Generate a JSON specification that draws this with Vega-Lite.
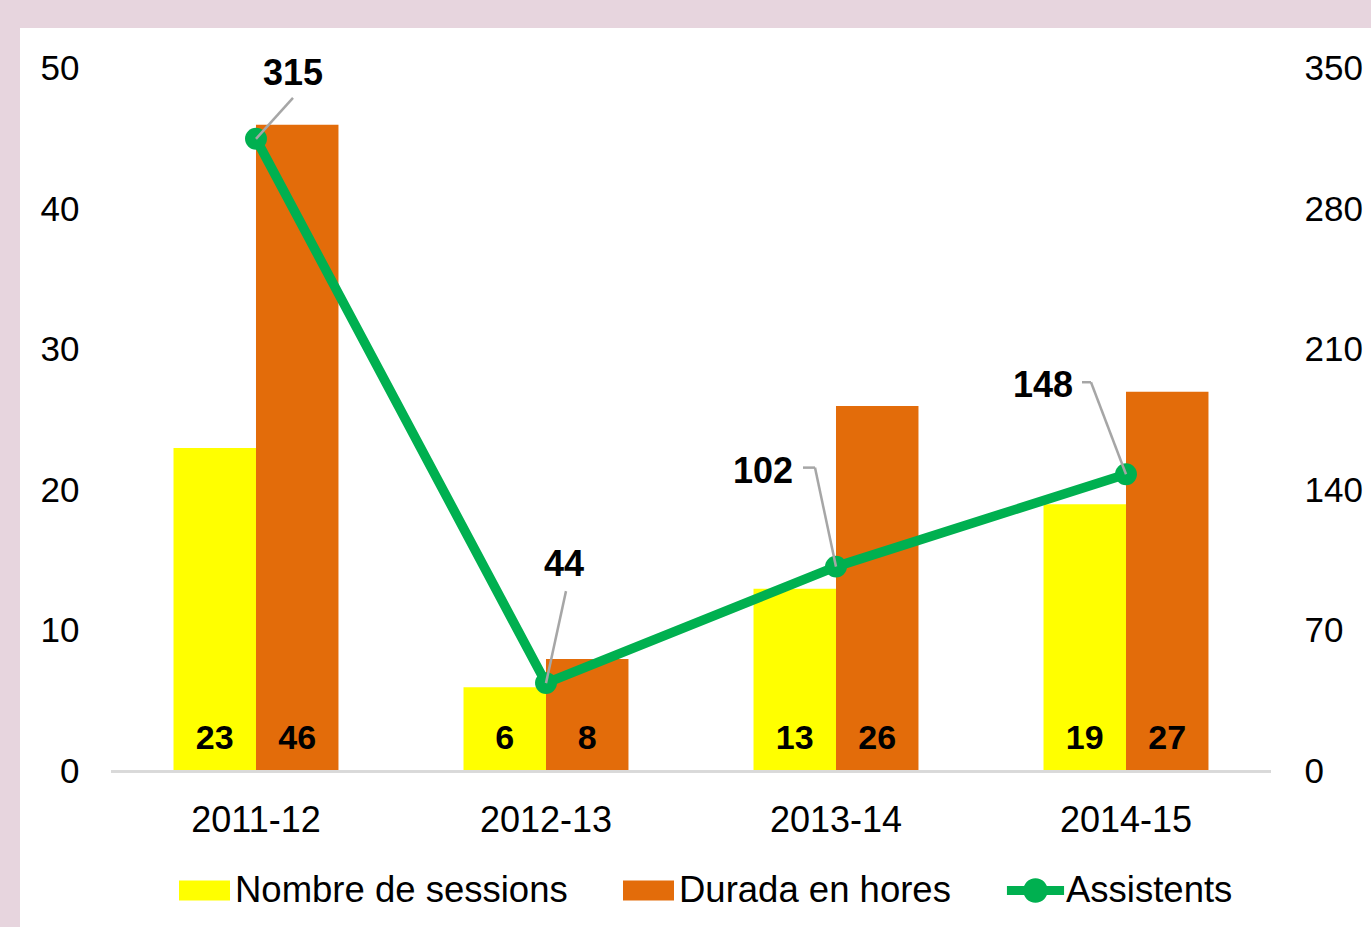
{
  "$schema": "https://vega.github.io/schema/vega-lite/v6.json",
  "width": 1351,
  "height": 899,
  "autosize": {"type": "none"},
  "padding": {"left": 20, "top": 28, "right": 0, "bottom": 0},
  "background": "#e7d5de",
  "config": {
    "view": {"stroke": null, "fill": "#ffffff"},
    "font": "Liberation Sans, Arial, sans-serif"
  },
  "datasets": {
    "bars": [
      {"year": "2011-12", "series": "Nombre de sessions", "value": 23},
      {"year": "2011-12", "series": "Durada en hores", "value": 46},
      {"year": "2012-13", "series": "Nombre de sessions", "value": 6},
      {"year": "2012-13", "series": "Durada en hores", "value": 8},
      {"year": "2013-14", "series": "Nombre de sessions", "value": 13},
      {"year": "2013-14", "series": "Durada en hores", "value": 26},
      {"year": "2014-15", "series": "Nombre de sessions", "value": 19},
      {"year": "2014-15", "series": "Durada en hores", "value": 27}
    ],
    "line": [
      {"year": "2011-12", "assistents": 315},
      {"year": "2012-13", "assistents": 44},
      {"year": "2013-14", "assistents": 102},
      {"year": "2014-15", "assistents": 148}
    ]
  },
  "layer": [
    {
      "data": {"name": "bars"},
      "layer": [
        {
          "mark": {"type": "bar"},
          "encoding": {
            "x": {
              "field": "year",
              "type": "nominal",
              "scale": {
                "type": "band",
                "domain": ["2011-12", "2012-13", "2013-14", "2014-15"],
                "paddingInner": 0,
                "paddingOuter": 0.3293,
                "align": 0.4764
              },
              "axis": {
                "title": null,
                "orient": "bottom",
                "offset": -155,
                "bandPosition": 0.5,
                "domain": false,
                "ticks": false,
                "grid": false,
                "labelAngle": 0,
                "labelAlign": "center",
                "labelPadding": 31,
                "labelFontSize": 36,
                "labelColor": "#000000"
              }
            },
            "xOffset": {
              "field": "series",
              "type": "nominal",
              "scale": {
                "domain": ["Nombre de sessions", "Durada en hores"],
                "paddingInner": 0,
                "paddingOuter": 0.758
              }
            },
            "y": {
              "field": "value",
              "type": "quantitative",
              "scale": {"domain": [-11.06, 52.88], "nice": false, "zero": false},
              "axis": {
                "title": null,
                "orient": "left",
                "values": [0, 10, 20, 30, 40, 50],
                "offset": -61,
                "labelPadding": 2,
                "domain": false,
                "ticks": false,
                "grid": false,
                "labelFontSize": 35,
                "labelColor": "#000000"
              }
            },
            "y2": {"datum": 0},
            "color": {
              "field": "series",
              "type": "nominal",
              "scale": {
                "domain": ["Nombre de sessions", "Durada en hores", "Assistents"],
                "range": ["#ffff00", "#e36c0a", "#00b050"]
              },
              "legend": {
                "title": null,
                "orient": "none",
                "legendX": 159,
                "legendY": 837,
                "direction": "horizontal",
                "symbolSize": 2601,
                "symbolStrokeWidth": 0,
                "symbolOpacity": 1,
                "labelFontSize": 36.5,
                "labelColor": "#000000",
                "labelOffset": 5,
                "labelLimit": 0,
                "columnPadding": 55,
                "symbolType": "M-1,-0.39H1V0.39H-1Z",
                "encode": {
                  "symbols": {
                    "update": {
                      "shape": {"signal": "datum.value === 'Assistents' ? 'M-1.12,-0.18H1.12V0.18H-1.12Z M0.48,0A0.48,0.48 0 1 1 -0.48,0A0.48,0.48 0 1 1 0.48,0Z' : 'M-1,-0.39H1V0.39H-1Z'"}
                    }
                  }
                }
              }
            }
          }
        },
        {
          "mark": {"type": "rule", "color": "#d9d9d9", "strokeWidth": 2},
          "encoding": {
            "x": {"datum": "2011-12", "type": "nominal", "bandPosition": 0},
            "x2": {"datum": "2014-15", "bandPosition": 1},
            "y": {"datum": 0, "type": "quantitative"}
          }
        },
        {
          "mark": {"type": "text", "fontWeight": "bold", "fontSize": 34, "baseline": "alphabetic", "dy": -22, "color": "#000000"},
          "encoding": {
            "x": {"field": "year", "type": "nominal"},
            "xOffset": {"field": "series", "type": "nominal"},
            "y": {"datum": 0, "type": "quantitative"},
            "text": {"field": "value", "type": "quantitative"}
          }
        }
      ]
    },
    {
      "data": {"name": "line"},
      "layer": [
        {
          "mark": {"type": "line", "color": "#00b050", "strokeWidth": 9.5, "strokeJoin": "round"},
          "encoding": {
            "x": {"field": "year", "type": "nominal"},
            "y": {
              "field": "assistents",
              "type": "quantitative",
              "scale": {"domain": [-77.42, 370.16], "nice": false, "zero": false},
              "axis": {
                "title": null,
                "orient": "right",
                "values": [0, 70, 140, 210, 280, 350],
                "offset": -69,
                "labelPadding": 2,
                "domain": false,
                "ticks": false,
                "grid": false,
                "labelFontSize": 35,
                "labelColor": "#000000"
              }
            }
          }
        },
        {
          "mark": {"type": "point", "filled": true, "color": "#00b050", "size": 480, "opacity": 1},
          "encoding": {
            "x": {"field": "year", "type": "nominal"},
            "y": {"field": "assistents", "type": "quantitative"}
          }
        },
        {
          "transform": [{"filter": "datum.year === '2011-12'"}],
          "mark": {"type": "rule", "color": "#a6a6a6", "strokeWidth": 2.5, "x2Offset": 37, "y2Offset": -41},
          "encoding": {
            "x": {"field": "year", "type": "nominal", "bandPosition": 0.5},
            "x2": {"field": "year", "bandPosition": 0.5},
            "y": {"field": "assistents", "type": "quantitative"},
            "y2": {"field": "assistents"}
          }
        },
        {
          "transform": [{"filter": "datum.year === '2012-13'"}],
          "mark": {"type": "rule", "color": "#a6a6a6", "strokeWidth": 2.5, "x2Offset": 20, "y2Offset": -92},
          "encoding": {
            "x": {"field": "year", "type": "nominal", "bandPosition": 0.5},
            "x2": {"field": "year", "bandPosition": 0.5},
            "y": {"field": "assistents", "type": "quantitative"},
            "y2": {"field": "assistents"}
          }
        },
        {
          "transform": [{"filter": "datum.year === '2013-14'"}],
          "mark": {"type": "rule", "color": "#a6a6a6", "strokeWidth": 2.5, "x2Offset": -21, "y2Offset": -99},
          "encoding": {
            "x": {"field": "year", "type": "nominal", "bandPosition": 0.5},
            "x2": {"field": "year", "bandPosition": 0.5},
            "y": {"field": "assistents", "type": "quantitative"},
            "y2": {"field": "assistents"}
          }
        },
        {
          "transform": [{"filter": "datum.year === '2013-14'"}],
          "mark": {"type": "rule", "color": "#a6a6a6", "strokeWidth": 2.5, "xOffset": -21, "yOffset": -99, "x2Offset": -33, "y2Offset": -99},
          "encoding": {
            "x": {"field": "year", "type": "nominal", "bandPosition": 0.5},
            "x2": {"field": "year", "bandPosition": 0.5},
            "y": {"field": "assistents", "type": "quantitative"},
            "y2": {"field": "assistents"}
          }
        },
        {
          "transform": [{"filter": "datum.year === '2014-15'"}],
          "mark": {"type": "rule", "color": "#a6a6a6", "strokeWidth": 2.5, "x2Offset": -35, "y2Offset": -92},
          "encoding": {
            "x": {"field": "year", "type": "nominal", "bandPosition": 0.5},
            "x2": {"field": "year", "bandPosition": 0.5},
            "y": {"field": "assistents", "type": "quantitative"},
            "y2": {"field": "assistents"}
          }
        },
        {
          "transform": [{"filter": "datum.year === '2014-15'"}],
          "mark": {"type": "rule", "color": "#a6a6a6", "strokeWidth": 2.5, "xOffset": -35, "yOffset": -92, "x2Offset": -44, "y2Offset": -92},
          "encoding": {
            "x": {"field": "year", "type": "nominal", "bandPosition": 0.5},
            "x2": {"field": "year", "bandPosition": 0.5},
            "y": {"field": "assistents", "type": "quantitative"},
            "y2": {"field": "assistents"}
          }
        },
        {
          "transform": [{"filter": "datum.year === '2011-12'"}],
          "mark": {"type": "text", "fontWeight": "bold", "fontSize": 36, "baseline": "alphabetic", "align": "center", "dx": 37, "dy": -54, "color": "#000000"},
          "encoding": {
            "x": {"field": "year", "type": "nominal"},
            "y": {"field": "assistents", "type": "quantitative"},
            "text": {"field": "assistents", "type": "quantitative"}
          }
        },
        {
          "transform": [{"filter": "datum.year === '2012-13'"}],
          "mark": {"type": "text", "fontWeight": "bold", "fontSize": 36, "baseline": "alphabetic", "align": "center", "dx": 18, "dy": -107, "color": "#000000"},
          "encoding": {
            "x": {"field": "year", "type": "nominal"},
            "y": {"field": "assistents", "type": "quantitative"},
            "text": {"field": "assistents", "type": "quantitative"}
          }
        },
        {
          "transform": [{"filter": "datum.year === '2013-14'"}],
          "mark": {"type": "text", "fontWeight": "bold", "fontSize": 36, "baseline": "alphabetic", "align": "center", "dx": -73, "dy": -84, "color": "#000000"},
          "encoding": {
            "x": {"field": "year", "type": "nominal"},
            "y": {"field": "assistents", "type": "quantitative"},
            "text": {"field": "assistents", "type": "quantitative"}
          }
        },
        {
          "transform": [{"filter": "datum.year === '2014-15'"}],
          "mark": {"type": "text", "fontWeight": "bold", "fontSize": 36, "baseline": "alphabetic", "align": "center", "dx": -83, "dy": -77, "color": "#000000"},
          "encoding": {
            "x": {"field": "year", "type": "nominal"},
            "y": {"field": "assistents", "type": "quantitative"},
            "text": {"field": "assistents", "type": "quantitative"}
          }
        }
      ]
    }
  ],
  "resolve": {"scale": {"y": "independent"}}
}
